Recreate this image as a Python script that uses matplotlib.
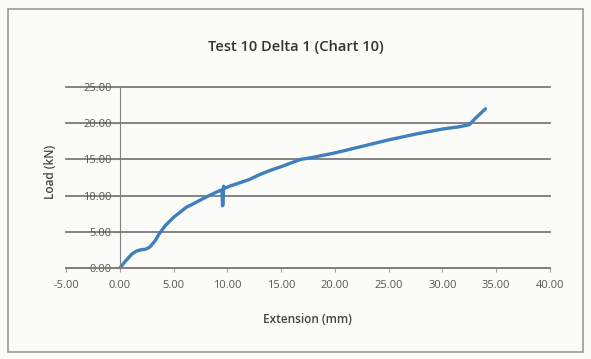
import matplotlib.pyplot as plt
import numpy as np

plt.rcParams['font.family'] = ['Open Sans', 'DejaVu Sans']

# extension (mm) and load (kN)
extension = [0.0, 0.5, 1.1, 1.5, 1.9, 2.4, 2.8, 3.3, 3.7, 4.2, 5.0, 5.6, 6.2,
             7.0, 7.5, 8.3, 9.0, 9.5, 9.55, 9.6, 9.65, 9.7, 10.2, 11.0, 12.0,
             13.0, 14.0, 15.0, 16.8, 18.0, 20.0, 22.5, 25.0, 27.5, 30.0, 31.5,
             32.5, 33.0, 33.5, 34.0]
load = [0.0, 0.9, 1.9, 2.3, 2.5, 2.6, 2.9, 3.8, 4.8, 5.8, 7.0, 7.7, 8.4,
        9.0, 9.4, 10.0, 10.5, 10.8, 8.6, 8.8, 11.3, 11.0, 11.3, 11.7, 12.2,
        12.9, 13.5, 14.0, 15.0, 15.3, 15.9, 16.8, 17.7, 18.5, 19.2, 19.5,
        19.8, 20.6, 21.3, 22.0]

xticks = np.arange(-5, 41, 5)
yticks = np.arange(0, 26, 5)

fig = plt.figure(figsize=(5.91, 3.59), dpi=100)
fig.patch.set_facecolor('#fbfbf8')
# chart area border
fig.add_artist(plt.Rectangle((0.014, 0.02), 0.972, 0.955, transform=fig.transFigure,
                             fill=False, edgecolor='#9a9a9a', lw=1.2))

ax = fig.add_axes([0.1117, 0.2535, 0.819, 0.504])
ax.set_facecolor('#fbfbf8')

# move the y axis to x=0 first (this resets tick settings)
for s in ['top', 'right']:
    ax.spines[s].set_visible(False)
ax.spines['left'].set_position(('data', 0))
ax.spines['left'].set_color('#808080')
ax.spines['bottom'].set_color('#808080')
ax.spines['bottom'].set_linewidth(1.3)

ax.plot(extension, load, color='#3f7fbf', lw=2.4, solid_capstyle='round')

ax.set_xlim(-5, 40)
ax.set_ylim(0, 25)
ax.set_xticks(xticks)
ax.set_yticks(yticks)
ax.set_xticklabels([f'{v:.2f}' for v in xticks], fontsize=8, color='#555555')
ax.set_yticklabels([f'{v:.2f}' for v in yticks], fontsize=8, color='#555555')
ax.grid(axis='y', color='#7a7a7a', lw=1.3)
for gl in ax.get_ygridlines():
    gl.set_clip_on(False)
ax.set_axisbelow(True)
ax.tick_params(axis='y', length=4, color='#808080', pad=2)
ax.tick_params(axis='x', length=3, color='#a0a0a0', pad=6)

fig.text(0.5, 0.87, 'Test 10 Delta 1 (Chart 10)', ha='center', va='center',
         fontsize=10.5, color='#333333', fontweight='semibold')
fig.text(0.52, 0.11, 'Extension (mm)', ha='center', va='center',
         fontsize=8.5, color='#444444', fontweight='semibold')
fig.text(0.085, 0.52, 'Load (kN)', ha='center', va='center', rotation=90,
         fontsize=8.5, color='#444444', fontweight='semibold')

fig.savefig('out.png', dpi=100, facecolor=fig.get_facecolor())
